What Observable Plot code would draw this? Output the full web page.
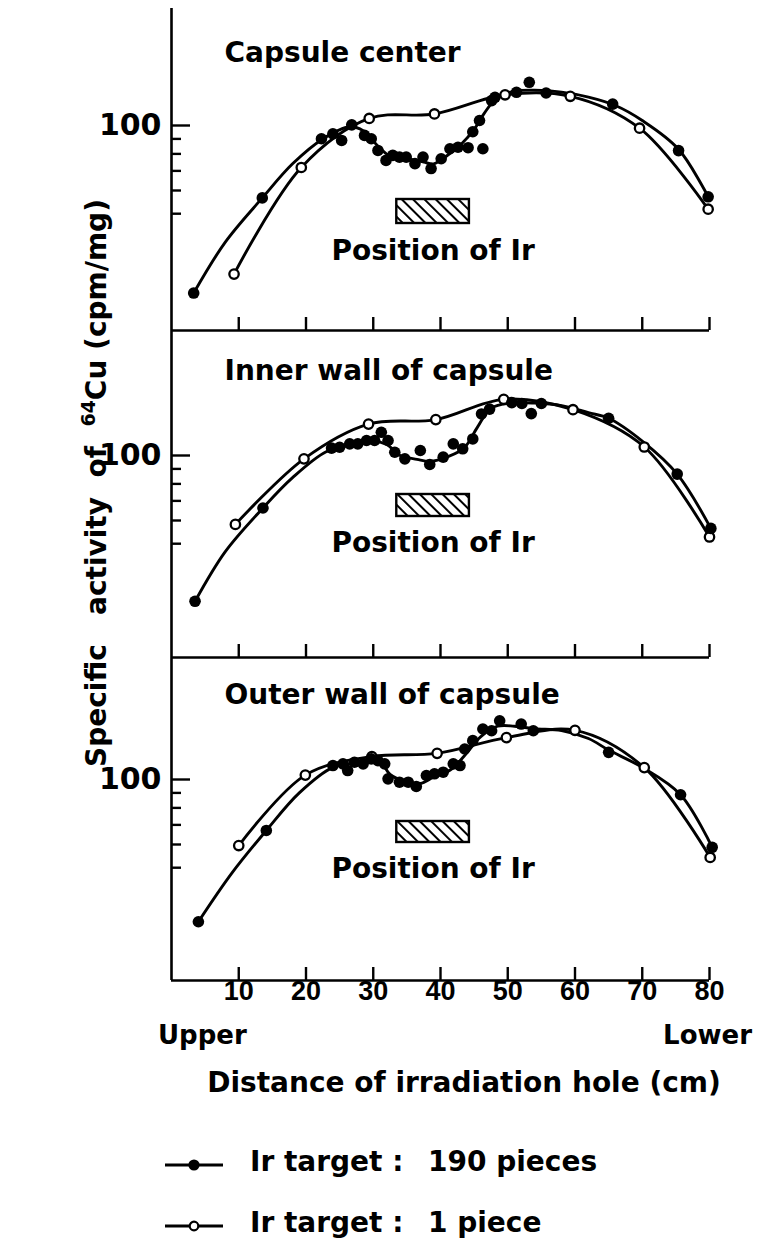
<!DOCTYPE html>
<html><head><meta charset="utf-8">
<script src="https://cdn.jsdelivr.net/npm/d3@7"></script>
<script src="https://cdn.jsdelivr.net/npm/@observablehq/plot@0.6"></script>
<style>
html,body{margin:0;padding:0;background:#fff;}
#root{position:relative;width:760px;height:1259px;overflow:hidden;font-family:"DejaVu Sans",sans-serif;font-weight:bold;color:#000;}
.abs{position:absolute;white-space:nowrap;line-height:1;}
svg{position:absolute;left:0;overflow:visible;}
</style></head><body><div id="root"></div>
<script>
// ---------- data ----------
const panelTitles = ["Capsule center", "Inner wall of capsule", "Outer wall of capsule"];
const xTicks = [10, 20, 30, 40, 50, 60, 70, 80];
const yMinorTicks = [50, 60, 70, 80, 90];
const yMajorTicks = [100];
const irPosition = [33.5, 44.3]; // cm, hatched box

// Panel 1 : Capsule center
const p1FilledX = [3.3, 13.5, 22.3, 24.0, 25.3, 26.8, 28.7, 29.7, 30.7, 31.9, 32.9, 33.9, 34.9, 36.2, 37.4, 38.6, 40.1, 41.4, 42.6, 44.1, 46.3, 44.8, 45.8, 47.6, 48.1, 51.3, 53.2, 55.7, 65.6, 75.4, 79.8];
const p1FilledY = [26.8, 56.6, 90.1, 93.7, 88.9, 100.5, 92.5, 90.1, 82.2, 76.0, 79.1, 78.0, 78.0, 74.1, 78.0, 71.3, 77.0, 83.3, 84.3, 84.0, 83.3, 95.2, 104.0, 121.6, 124.8, 129.8, 140.4, 129.1, 118.3, 82.1, 57.1];
const p1FitX = [3.3, 8, 13.5, 18, 22.5, 26.5, 28.5, 30.5, 32.5, 35, 37.5, 39, 41, 43, 45, 46.5, 48.5, 51, 54, 58, 62, 66, 70, 75.4, 79.8];
const p1FitY = [26.8, 40, 56.6, 74, 90, 99, 96, 86, 78.5, 77, 75, 74, 79, 86, 97, 110, 125, 131, 132, 130, 125, 117, 104, 83, 57.1];
const p1OpenX = [9.3, 19.3, 29.4, 39.1, 49.6, 59.3, 69.6, 79.8];
const p1OpenY = [31.1, 71.9, 105.7, 109.5, 127.3, 125.8, 97.9, 51.8];

// Panel 2 : Inner wall of capsule
const p2FilledX = [3.5, 13.6, 23.8, 25.0, 26.5, 27.7, 29.0, 30.2, 31.2, 32.2, 33.2, 34.7, 37.0, 38.4, 40.4, 41.9, 43.3, 44.8, 46.1, 47.3, 50.6, 52.1, 53.5, 55.0, 65.0, 75.2, 80.2];
const p2FilledY = [31.8, 66.2, 106, 106.7, 109.6, 109.6, 112.5, 112.5, 120, 112.5, 102.6, 97.4, 104, 93.2, 98.7, 109.6, 105.4, 113.9, 138.6, 144, 151.5, 150.5, 139, 150.5, 134, 86.4, 56.4];
const p2FitX = [3.5, 8, 13.6, 18, 23, 27, 30, 32, 34, 36.5, 38.5, 41, 43.5, 45.5, 47.5, 50.5, 54, 58, 62, 65, 70, 75.2, 80.2];
const p2FitY = [31.8, 47, 66.2, 84, 103, 109, 112, 109, 100, 97, 95.5, 99, 106, 125, 145, 151, 151, 148, 140, 134, 112, 86.4, 56.4];
const p2OpenX = [9.5, 19.7, 29.3, 39.3, 49.4, 59.7, 70.3, 80.0];
const p2OpenY = [58.2, 97.4, 128, 132.6, 155.5, 143.3, 106.9, 52.7];

// Panel 3 : Outer wall of capsule
const p3FilledX = [4.0, 14.1, 24.0, 25.5, 26.2, 27.2, 28.5, 29.7, 30.7, 31.7, 32.2, 33.9, 35.2, 36.4, 37.9, 39.1, 40.4, 41.9, 42.9, 43.6, 44.8, 46.3, 47.6, 48.8, 52.0, 53.8, 65.0, 75.7, 80.4];
const p3FilledY = [32.7, 67, 111.6, 113.1, 107.3, 114.5, 113.1, 117.6, 116.0, 113.1, 100.5, 97.9, 97.9, 94.7, 103.2, 104.6, 105.9, 113.1, 111.6, 127.1, 135.7, 148.7, 146.7, 158.7, 154.6, 146.7, 123.8, 88.7, 58.7];
const p3FitX = [4, 9, 14.1, 19, 24, 28, 31, 32.5, 35, 37, 39, 41.5, 43.5, 46, 48.5, 51, 54, 58, 62, 65, 70, 75.7, 80.4];
const p3FitY = [32.7, 48, 67, 90, 110, 114, 115, 104, 98, 97, 102, 108, 120, 140, 152, 152, 149, 147, 138, 126, 110, 88.7, 58.7];
const p3OpenX = [10.0, 19.9, 29.8, 39.5, 49.8, 60.0, 70.3, 80.1];
const p3OpenY = [59.5, 103.5, 119.8, 122.8, 139, 147.2, 109.8, 54.2];

// ---------- build ----------
const zip = (xs, ys) => xs.map((x, i) => ({x, y: ys[i]}));
const panelsData = [
  {filled: zip(p1FilledX, p1FilledY), fit: zip(p1FitX, p1FitY), open: zip(p1OpenX, p1OpenY)},
  {filled: zip(p2FilledX, p2FilledY), fit: zip(p2FitX, p2FitY), open: zip(p2OpenX, p2OpenY)},
  {filled: zip(p3FilledX, p3FilledY), fit: zip(p3FitX, p3FitY), open: zip(p3OpenX, p3OpenY)}
];
const layout = [
  {top: 8, bottom: 330, y100: 125, titleY: 34, boxTop: 191, boxBottom: 107, textY: 232},
  {top: 330, bottom: 657, y100: 455, titleY: 30, boxTop: 164, boxBottom: 141, textY: 202},
  {top: 657, bottom: 980, y100: 779, titleY: 27, boxTop: 164, boxBottom: 138, textY: 201}
];
const FONT = "DejaVu Sans";
const root = document.getElementById("root");
const D = 293; // px per decade
const ML = 171, MR = 51, W = 760;
const plotW = W - ML - MR;

layout.forEach((L, i) => {
  const yMax = 100 * Math.pow(10, (L.y100 - L.top) / D);
  const yMin = 100 * Math.pow(10, -(L.bottom - L.y100) / D);
  const mt = 4, mb = i === 2 ? 40 : 4;
  const h = L.bottom - L.top;
  const d = panelsData[i];
  const marks = [
    Plot.rect([irPosition], {x1: r => r[0], x2: r => r[1], insetTop: L.boxTop, insetBottom: L.boxBottom, fill: `url(#hatch${i})`, stroke: "#000", strokeWidth: 2.4}),
    Plot.text([irPosition], {x: r => (r[0] + r[1]) / 2, frameAnchor: "top", dy: L.textY, text: () => "Position of Ir", fontSize: 28, fontWeight: "bold"}),
    Plot.text([panelTitles[i]], {frameAnchor: "top-left", dx: 53, dy: L.titleY, text: t => t, textAnchor: "start", fontSize: 28, fontWeight: "bold"}),
    Plot.ruleX([0], {stroke: "#000", strokeWidth: 2.6}),
    Plot.ruleY([yMin], {stroke: "#000", strokeWidth: 2.6}),
    Plot.tickX(xTicks, {x: v => v, insetTop: h - 13, stroke: "#000", strokeWidth: 2.4}),
    Plot.tickY(yMinorTicks, {y: v => v, insetRight: plotW - 10, stroke: "#000", strokeWidth: 2.4}),
    Plot.tickY(yMajorTicks, {y: v => v, insetRight: plotW - 19, stroke: "#000", strokeWidth: 2.4}),
    Plot.text(yMajorTicks, {y: v => v, frameAnchor: "left", dx: -10, textAnchor: "end", text: v => String(v), fontSize: 30, fontWeight: "bold"}),
    Plot.line(d.open, {x: "x", y: "y", curve: "catmull-rom", stroke: "#000", strokeWidth: 2.9}),
    Plot.line(d.fit, {x: "x", y: "y", curve: "catmull-rom", stroke: "#000", strokeWidth: 2.9}),
    Plot.dot(d.open, {x: "x", y: "y", r: 4.7, fill: "#fff", stroke: "#000", strokeWidth: 2.3}),
    Plot.dot(d.filled, {x: "x", y: "y", r: 5.8, fill: "#000", stroke: "none"})
  ];
  if (i === 2) {
    marks.push(Plot.text(xTicks, {x: v => v, frameAnchor: "bottom", dy: 19, text: v => String(v), fontSize: 27, fontFamily: "Liberation Sans", fontWeight: "bold"}));
  }
  const svg = Plot.plot({
    width: W, height: h + mt + mb,
    marginLeft: ML, marginRight: MR, marginTop: mt, marginBottom: mb,
    x: {domain: [0, 80], axis: null},
    y: {type: "log", domain: [yMin, yMax], axis: null},
    style: {fontFamily: FONT, background: "transparent", color: "#000"},
    marks
  });
  const ns = "http://www.w3.org/2000/svg";
  const defs = document.createElementNS(ns, "defs");
  defs.innerHTML = `<pattern id="hatch${i}" patternUnits="userSpaceOnUse" width="8" height="8" patternTransform="rotate(-45)"><rect width="8" height="8" fill="#fff"/><line x1="2" y1="0" x2="2" y2="8" stroke="#000" stroke-width="2"/></pattern>`;
  svg.insertBefore(defs, svg.firstChild);
  svg.style.top = (L.top - mt) + "px";
  root.appendChild(svg);
});

// ---------- html text ----------
function addDiv(html, css) {
  const el = document.createElement("div");
  el.className = "abs";
  el.innerHTML = html;
  Object.assign(el.style, css);
  root.appendChild(el);
  return el;
}
addDiv('Specific&nbsp;&nbsp; activity&nbsp; of&nbsp; <sup style="font-size:19px;vertical-align:0.55em">64</sup>Cu&nbsp;(cpm/mg)',
  {left: "95px", top: "483px", fontSize: "28px", transform: "translate(-50%,-50%) rotate(-90deg)"});
addDiv("Upper", {left: "158px", top: "1022px", fontSize: "26px"});
addDiv("Lower", {right: "8px", top: "1022px", fontSize: "26px"});
addDiv("Distance of irradiation hole (cm)", {left: "464px", top: "1069px", fontSize: "28px", transform: "translateX(-50%)"});

function legendRow(y, open, label, count) {
  const sym = `<svg width="60" height="14" style="position:static;display:inline-block;vertical-align:middle;overflow:visible">
    <line x1="0" y1="7" x2="58" y2="7" stroke="#000" stroke-width="3"/>
    ${open ? '<circle cx="29" cy="7" r="4.3" fill="#fff" stroke="#000" stroke-width="2.2"/>' : '<circle cx="29" cy="7" r="5.6" fill="#000"/>'}
  </svg>`;
  addDiv(sym, {left: "165px", top: (y - 7) + "px"});
  addDiv(`<span style="display:inline-block;width:178px">${label}</span>${count}`, {left: "250px", top: (y - 15) + "px", fontSize: "28px"});
}
legendRow(1163, false, "Ir target :", "190 pieces");
legendRow(1224, true, "Ir target :", "1 piece");
</script></body></html>
